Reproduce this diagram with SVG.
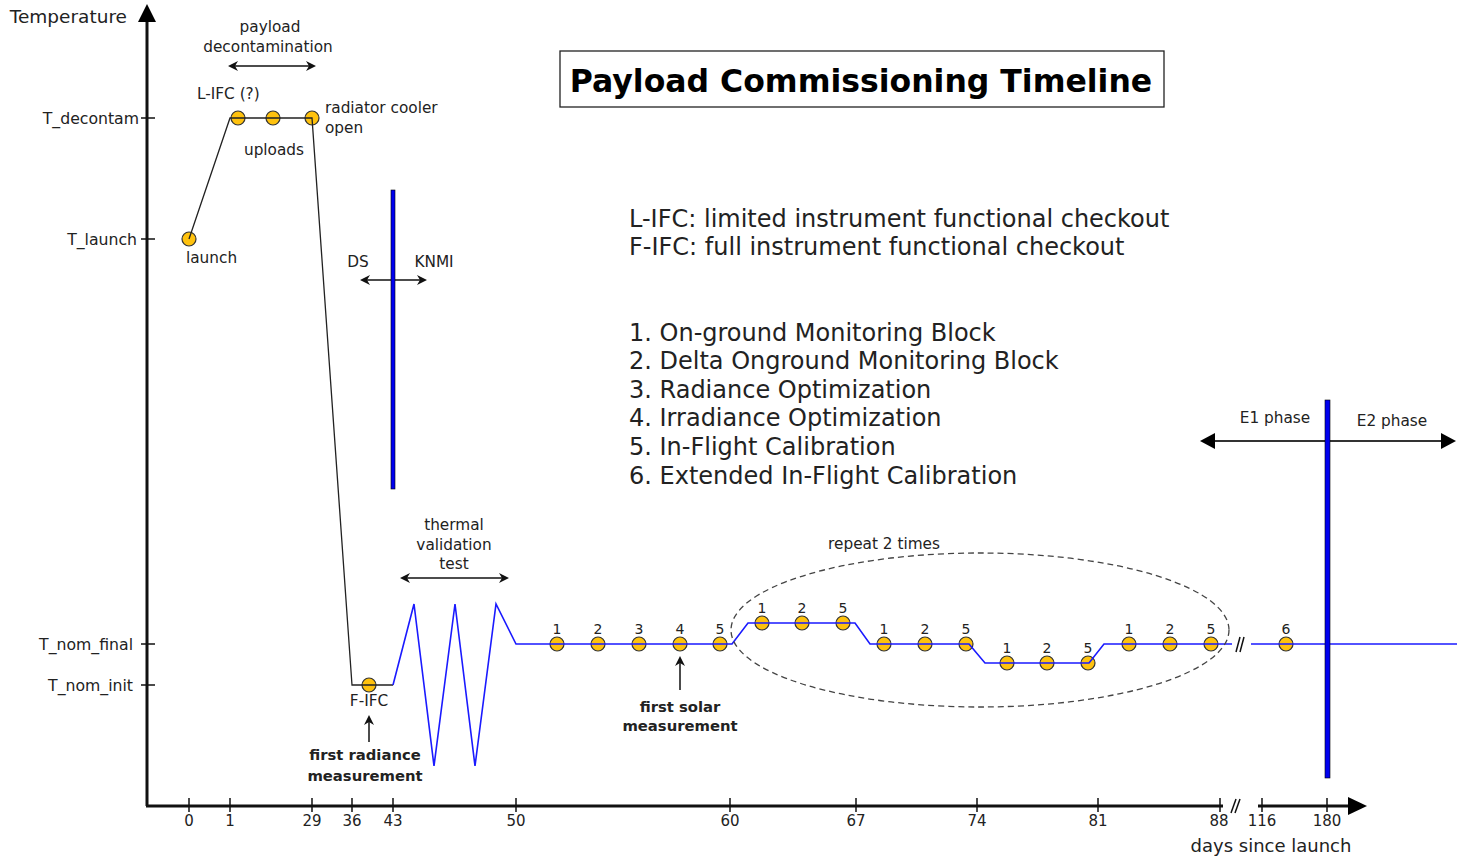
<svg xmlns="http://www.w3.org/2000/svg" width="1460" height="862" viewBox="0 0 1460 862">
<defs>
<style>
text{font-family:"DejaVu Sans","Noto Sans",sans-serif;fill:#222}
.lbl{font-size:15.3px}
.ax{font-size:15.7px;text-anchor:end}
.tk{font-size:15px;text-anchor:middle}
.num{font-size:14px;text-anchor:middle}
.bold{font-size:14.8px;font-weight:bold;text-anchor:middle}
.leg{font-size:24px}
.dot{fill:#FFC20E;stroke:#333;stroke-width:1.2}
.blk{fill:none;stroke:#222;stroke-width:1.3}
.blu{fill:none;stroke:#1a1aff;stroke-width:1.6}
.tick{stroke:#111;stroke-width:1.5}
.bar{fill:#0000ee;stroke:#000;stroke-width:0.6}
.arr{fill:none;stroke:#111;stroke-width:1.5}
</style>
<marker id="chev" viewBox="0 0 10 10" refX="8" refY="5" markerWidth="10" markerHeight="10" markerUnits="userSpaceOnUse" orient="auto-start-reverse">
<path d="M0,0 L10,5 L0,10 L3,5 Z" fill="#111"/>
</marker>
</defs>

<g id="axes">
<line x1="147" y1="806" x2="147" y2="20" stroke="#111" stroke-width="3"/>
<polygon points="147,4 138,22 156,22" fill="#000"/>
<line x1="146" y1="806" x2="1223" y2="806" stroke="#111" stroke-width="3"/>
<line x1="1258" y1="806" x2="1350" y2="806" stroke="#111" stroke-width="3"/>
<polygon points="1367,806 1348,797 1348,815" fill="#000"/>
<line x1="1231" y1="813" x2="1236" y2="799" class="tick"/>
<line x1="1235" y1="813" x2="1240" y2="799" class="tick"/>
<g class="tick">
<line x1="141" y1="118" x2="155" y2="118"/>
<line x1="141" y1="239" x2="155" y2="239"/>
<line x1="141" y1="644" x2="155" y2="644"/>
<line x1="141" y1="685" x2="155" y2="685"/>
<line x1="189" y1="798" x2="189" y2="812"/>
<line x1="230" y1="798" x2="230" y2="812"/>
<line x1="312" y1="798" x2="312" y2="812"/>
<line x1="352" y1="798" x2="352" y2="812"/>
<line x1="393" y1="798" x2="393" y2="812"/>
<line x1="516" y1="798" x2="516" y2="812"/>
<line x1="730" y1="798" x2="730" y2="812"/>
<line x1="856" y1="798" x2="856" y2="812"/>
<line x1="977" y1="798" x2="977" y2="812"/>
<line x1="1098" y1="798" x2="1098" y2="812"/>
<line x1="1220" y1="798" x2="1220" y2="812"/>
<line x1="1262" y1="798" x2="1262" y2="812"/>
<line x1="1327" y1="798" x2="1327" y2="812"/>
</g>
<text x="127" y="23" style="font-size:18.5px;text-anchor:end">Temperature</text>
<text x="139" y="124" class="ax">T_decontam</text>
<text x="137" y="245" class="ax">T_launch</text>
<text x="133" y="650" class="ax">T_nom_final</text>
<text x="133" y="691" class="ax">T_nom_init</text>
<text x="189" y="826" class="tk">0</text>
<text x="230" y="826" class="tk">1</text>
<text x="312" y="826" class="tk">29</text>
<text x="352" y="826" class="tk">36</text>
<text x="393" y="826" class="tk">43</text>
<text x="516" y="826" class="tk">50</text>
<text x="730" y="826" class="tk">60</text>
<text x="856" y="826" class="tk">67</text>
<text x="977" y="826" class="tk">74</text>
<text x="1098" y="826" class="tk">81</text>
<text x="1219" y="826" class="tk">88</text>
<text x="1262" y="826" class="tk">116</text>
<text x="1327" y="826" class="tk">180</text>
<text x="1271" y="852" style="font-size:18px;text-anchor:middle">days since launch</text>
</g>

<g id="title">
<rect x="560" y="51" width="604" height="56" fill="#fff" stroke="#222" stroke-width="1.3"/>
<text x="861" y="92" style="font-size:31.5px;font-weight:bold;text-anchor:middle;fill:#000">Payload Commissioning Timeline</text>
</g>

<g id="legend">
<text x="629" y="227" class="leg">L-IFC: limited instrument functional checkout</text>
<text x="629" y="255" class="leg">F-IFC: full instrument functional checkout</text>
<text x="629" y="341" class="leg">1. On-ground Monitoring Block</text>
<text x="629" y="369" class="leg">2. Delta Onground Monitoring Block</text>
<text x="629" y="398" class="leg">3. Radiance Optimization</text>
<text x="629" y="426" class="leg">4. Irradiance Optimization</text>
<text x="629" y="455" class="leg">5. In-Flight Calibration</text>
<text x="629" y="484" class="leg">6. Extended In-Flight Calibration</text>
</g>

<g id="points">
<circle cx="189" cy="239" r="7" class="dot"/>
<circle cx="238" cy="118" r="7" class="dot"/>
<circle cx="273" cy="118" r="7" class="dot"/>
<circle cx="312" cy="118" r="7" class="dot"/>
<circle cx="369" cy="685" r="7" class="dot"/>
<circle cx="557" cy="644" r="7" class="dot"/>
<circle cx="598" cy="644" r="7" class="dot"/>
<circle cx="639" cy="644" r="7" class="dot"/>
<circle cx="680" cy="644" r="7" class="dot"/>
<circle cx="720" cy="644" r="7" class="dot"/>
<circle cx="762" cy="623" r="7" class="dot"/>
<circle cx="802" cy="623" r="7" class="dot"/>
<circle cx="843" cy="623" r="7" class="dot"/>
<circle cx="884" cy="644" r="7" class="dot"/>
<circle cx="925" cy="644" r="7" class="dot"/>
<circle cx="966" cy="644" r="7" class="dot"/>
<circle cx="1007" cy="663" r="7" class="dot"/>
<circle cx="1047" cy="663" r="7" class="dot"/>
<circle cx="1088" cy="663" r="7" class="dot"/>
<circle cx="1129" cy="644" r="7" class="dot"/>
<circle cx="1170" cy="644" r="7" class="dot"/>
<circle cx="1211" cy="644" r="7" class="dot"/>
<circle cx="1286" cy="644" r="7" class="dot"/>
<text x="557" y="634" class="num">1</text>
<text x="598" y="634" class="num">2</text>
<text x="639" y="634" class="num">3</text>
<text x="680" y="634" class="num">4</text>
<text x="720" y="634" class="num">5</text>
<text x="762" y="613" class="num">1</text>
<text x="802" y="613" class="num">2</text>
<text x="843" y="613" class="num">5</text>
<text x="884" y="634" class="num">1</text>
<text x="925" y="634" class="num">2</text>
<text x="966" y="634" class="num">5</text>
<text x="1007" y="653" class="num">1</text>
<text x="1047" y="653" class="num">2</text>
<text x="1088" y="653" class="num">5</text>
<text x="1129" y="634" class="num">1</text>
<text x="1170" y="634" class="num">2</text>
<text x="1211" y="634" class="num">5</text>
<text x="1286" y="634" class="num">6</text>
</g>

<g id="connectors">
<polyline class="blk" points="189,239 230,118 312,118 352,685 393,685"/>
<polyline class="blu" points="393,685 414,604 434,766 455,604 475,766 496,604 516,644 732,644 748,623 855,623 870,644 969,644 985,663 1089,663 1104,644 1232,644"/>
<line class="blu" x1="1251" y1="644" x2="1457" y2="644"/>
<line x1="1236" y1="652" x2="1240" y2="637" class="tick"/>
<line x1="1240" y1="652" x2="1244" y2="637" class="tick"/>
<line class="arr" x1="230" y1="66" x2="314" y2="66" marker-start="url(#chev)" marker-end="url(#chev)"/>
<line class="arr" x1="362" y1="280" x2="425" y2="280" marker-start="url(#chev)" marker-end="url(#chev)"/>
<line class="arr" x1="402" y1="578" x2="507" y2="578" marker-start="url(#chev)" marker-end="url(#chev)"/>
<line class="arr" x1="369" y1="742" x2="369" y2="717" marker-end="url(#chev)"/>
<line class="arr" x1="680" y1="690" x2="680" y2="658" marker-end="url(#chev)"/>
<line x1="1212" y1="441" x2="1443" y2="441" stroke="#333" stroke-width="2"/>
<polygon points="1200,441 1215,433 1215,449" fill="#000"/>
<polygon points="1456,441 1441,433 1441,449" fill="#000"/>
<ellipse cx="980" cy="630" rx="249" ry="77" fill="none" stroke="#444" stroke-width="1.3" stroke-dasharray="6,4"/>
</g>

<g id="bars">
<rect x="391" y="190" width="4" height="299" class="bar"/>
<rect x="1325" y="400" width="5" height="378" class="bar"/>
</g>

<g id="labels">
<text x="270" y="32" class="lbl" style="text-anchor:middle">payload</text>
<text x="268" y="52" class="lbl" style="text-anchor:middle">decontamination</text>
<text x="197" y="99" class="lbl">L-IFC (?)</text>
<text x="325" y="113" class="lbl">radiator cooler</text>
<text x="325" y="133" class="lbl">open</text>
<text x="274" y="155" class="lbl" style="text-anchor:middle">uploads</text>
<text x="186" y="263" class="lbl">launch</text>
<text x="358" y="267" class="lbl" style="text-anchor:middle">DS</text>
<text x="434" y="267" class="lbl" style="text-anchor:middle">KNMI</text>
<text x="369" y="706" class="lbl" style="text-anchor:middle">F-IFC</text>
<text x="365" y="760" class="bold">first radiance</text>
<text x="365" y="781" class="bold">measurement</text>
<text x="454" y="530" class="lbl" style="text-anchor:middle">thermal</text>
<text x="454" y="550" class="lbl" style="text-anchor:middle">validation</text>
<text x="454" y="569" class="lbl" style="text-anchor:middle">test</text>
<text x="680" y="712" class="bold">first solar</text>
<text x="680" y="731" class="bold">measurement</text>
<text x="884" y="549" class="lbl" style="text-anchor:middle">repeat 2 times</text>
<text x="1275" y="423" class="lbl" style="text-anchor:middle">E1 phase</text>
<text x="1392" y="426" class="lbl" style="text-anchor:middle">E2 phase</text>
</g>
</svg>
